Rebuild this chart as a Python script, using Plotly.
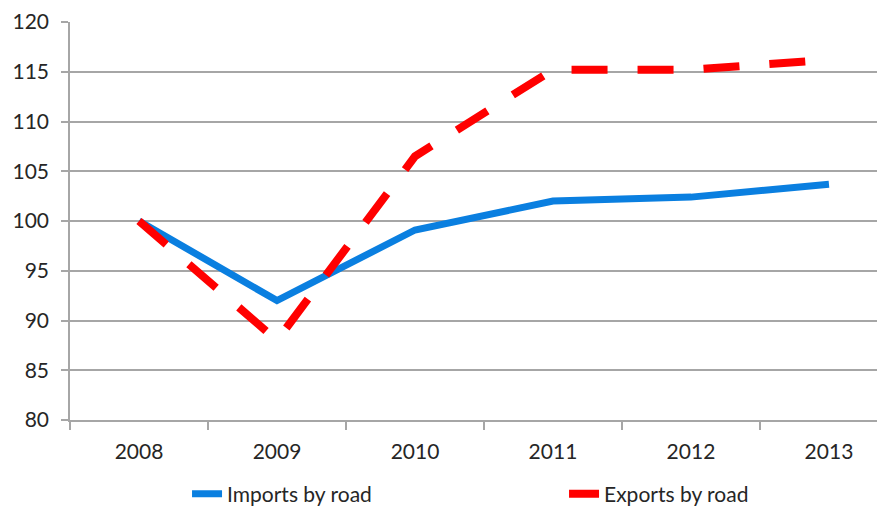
import plotly.graph_objects as go

# ── Data ─────────────────────────────────────────────────────────────────────
YEARS   = ["2008", "2009", "2010", "2011", "2012", "2013"]
IMPORTS = [100.0, 92.0, 99.1, 102.0, 102.4, 103.7]
EXPORTS = [100.0, 88.0, 106.5, 115.2, 115.2, 116.2]

BLUE = "#0A7FE0"
RED  = "#FF0000"
GRID = "#A6A6A6"
FONT = dict(family="Lato, 'Open Sans', Arial, sans-serif", size=21, color="#262626")

fig = go.Figure()
fig.add_trace(go.Scatter(
    x=YEARS, y=IMPORTS, mode="lines", name="Imports by road",
    line=dict(color=BLUE, width=7),
))
fig.add_trace(go.Scatter(
    x=YEARS, y=EXPORTS, mode="lines", name="Exports by road",
    line=dict(color=RED, width=8, dash="36px,30px"),
))

# page body has an 8px margin, so the figure is sized to the visible area
fig.update_layout(
    width=877, height=499,
    font=FONT,
    plot_bgcolor="white", paper_bgcolor="white",
    margin=dict(l=62, r=0, t=14, b=87, autoexpand=False),
    showlegend=True,
    legend=dict(
        orientation="h", x=0.1436, xanchor="left", y=-0.186, yanchor="middle",
        entrywidth=332, font=FONT, itemwidth=30,
    ),
    xaxis=dict(
        type="category", range=[-0.5, 5.406],
        showgrid=False, showline=True, linecolor=GRID, linewidth=1.5,
        ticks="outside", tickson="boundaries", ticklen=8, tickcolor=GRID, tickwidth=1.5,
        ticklabelstandoff=12,
    ),
    yaxis=dict(
        range=[80, 120], dtick=5,
        showgrid=True, gridcolor=GRID, gridwidth=1.5,
        showline=True, linecolor=GRID, linewidth=1.5,
        ticks="outside", ticklen=7, tickcolor=GRID, tickwidth=1.5,
        ticklabelstandoff=8, zeroline=False,
    ),
)

fig.write_html("out.html")
